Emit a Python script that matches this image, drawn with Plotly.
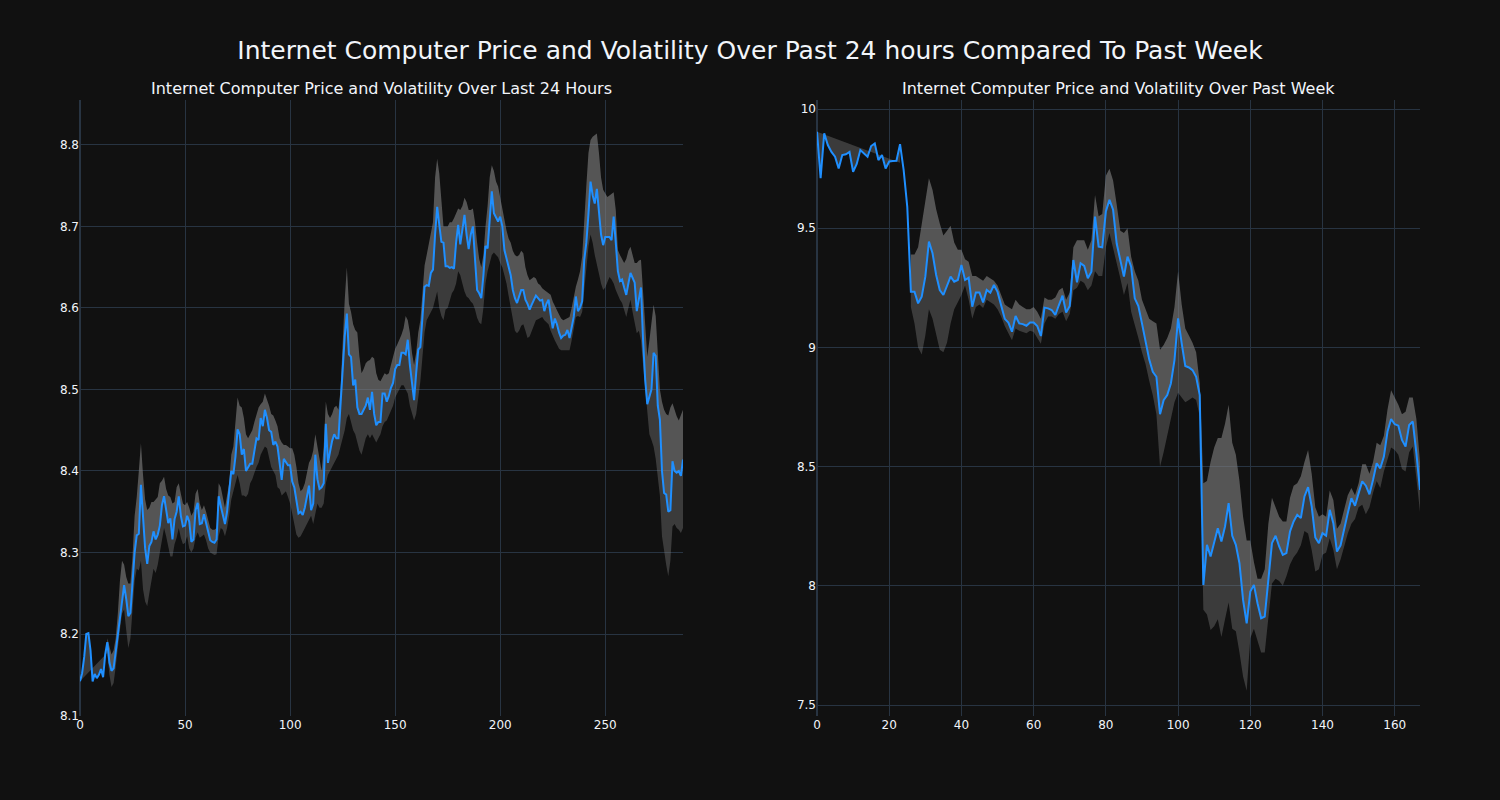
import plotly.graph_objects as go
from plotly.subplots import make_subplots

# ---------------- Last 24 hours (5-minute steps) ----------------
day_price = [
    8.142, 8.152, 8.172, 8.200, 8.201, 8.180, 8.142, 8.151, 8.146, 8.150,
    8.157, 8.147, 8.175, 8.190, 8.165, 8.155, 8.158, 8.178, 8.200, 8.222,
    8.245, 8.260, 8.243, 8.222, 8.226, 8.262, 8.300, 8.321, 8.323, 8.383,
    8.345, 8.305, 8.286, 8.308, 8.313, 8.326, 8.316, 8.322, 8.333, 8.358,
    8.369, 8.352, 8.336, 8.342, 8.316, 8.341, 8.350, 8.369, 8.345, 8.332,
    8.333, 8.345, 8.338, 8.313, 8.316, 8.352, 8.361, 8.335, 8.336, 8.347,
    8.336, 8.327, 8.315, 8.313, 8.312, 8.316, 8.369, 8.357, 8.345, 8.335,
    8.350, 8.372, 8.400, 8.396, 8.418, 8.451, 8.445, 8.420, 8.427, 8.400,
    8.405, 8.409, 8.409, 8.425, 8.440, 8.438, 8.465, 8.455, 8.475, 8.465,
    8.450, 8.448, 8.432, 8.436, 8.430, 8.410, 8.389, 8.415, 8.410, 8.407,
    8.407, 8.387, 8.380, 8.365, 8.348, 8.350, 8.346, 8.355, 8.368, 8.382,
    8.352, 8.360, 8.420, 8.390, 8.378, 8.380, 8.385, 8.458, 8.410, 8.425,
    8.437, 8.445, 8.440, 8.440, 8.480, 8.530, 8.565, 8.593, 8.543, 8.540,
    8.505, 8.512, 8.478, 8.470, 8.470, 8.475, 8.480, 8.490, 8.475, 8.497,
    8.470, 8.456, 8.460, 8.460, 8.495, 8.495, 8.485, 8.492, 8.502, 8.508,
    8.525, 8.530, 8.530, 8.545, 8.545, 8.543, 8.561, 8.530, 8.508, 8.487,
    8.520, 8.549, 8.552, 8.585, 8.626, 8.628, 8.627, 8.643, 8.647, 8.690,
    8.724, 8.702, 8.681, 8.680, 8.651, 8.651, 8.649, 8.650, 8.648, 8.680,
    8.702, 8.678, 8.695, 8.714, 8.690, 8.672, 8.690, 8.700, 8.660, 8.622,
    8.618, 8.612, 8.640, 8.676, 8.673, 8.710, 8.743, 8.716, 8.710, 8.706,
    8.712, 8.700, 8.671, 8.661, 8.650, 8.640, 8.622, 8.612, 8.606, 8.615,
    8.622, 8.622, 8.610, 8.605, 8.598, 8.604, 8.610, 8.615, 8.612, 8.609,
    8.610, 8.596, 8.605, 8.610, 8.592, 8.575, 8.587, 8.580, 8.570, 8.563,
    8.566, 8.567, 8.573, 8.563, 8.576, 8.589, 8.614, 8.596, 8.600, 8.608,
    8.659, 8.680, 8.715, 8.755, 8.738, 8.728, 8.746, 8.712, 8.690, 8.677,
    8.687, 8.687, 8.687, 8.683, 8.712, 8.680, 8.645, 8.633, 8.635, 8.625,
    8.616, 8.630, 8.643, 8.637, 8.631, 8.596, 8.612, 8.625, 8.560, 8.512,
    8.482, 8.490, 8.500, 8.545, 8.541, 8.480, 8.463, 8.400, 8.373, 8.371,
    8.350, 8.352, 8.412, 8.400, 8.398, 8.400, 8.394, 8.414,
]
day_band_start = 13
day_gap_corner = (13, 8.177)
day_upper = [
    8.195, 8.185, 8.175, 8.180, 8.195, 8.225, 8.265, 8.290, 8.285, 8.270,
    8.262, 8.262, 8.295, 8.345, 8.368, 8.400, 8.434, 8.395, 8.365, 8.352,
    8.355, 8.362, 8.362, 8.365, 8.368, 8.385, 8.388, 8.393, 8.378, 8.370,
    8.368, 8.360, 8.362, 8.380, 8.385, 8.372, 8.360, 8.358, 8.362, 8.355,
    8.345, 8.350, 8.372, 8.378, 8.360, 8.352, 8.358, 8.350, 8.340, 8.330,
    8.328, 8.328, 8.330, 8.385, 8.380, 8.368, 8.355, 8.370, 8.385, 8.420,
    8.430, 8.460, 8.490, 8.480, 8.478, 8.465, 8.445, 8.440, 8.445, 8.450,
    8.460, 8.470, 8.478, 8.482, 8.485, 8.495, 8.488, 8.480, 8.470, 8.468,
    8.462, 8.455, 8.440, 8.435, 8.432, 8.432, 8.430, 8.428, 8.428, 8.420,
    8.405, 8.385, 8.375, 8.378, 8.385, 8.400, 8.410, 8.415, 8.425, 8.445,
    8.430, 8.410, 8.400, 8.430, 8.485, 8.470, 8.465, 8.470, 8.478, 8.480,
    8.475, 8.500, 8.560, 8.610, 8.650, 8.605, 8.595, 8.580, 8.573, 8.570,
    8.540, 8.520, 8.525, 8.532, 8.535, 8.536, 8.540, 8.538, 8.520, 8.512,
    8.510, 8.515, 8.520, 8.518, 8.520, 8.530, 8.540, 8.550, 8.555, 8.560,
    8.567, 8.575, 8.590, 8.585, 8.570, 8.545, 8.530, 8.545, 8.570, 8.585,
    8.620, 8.652, 8.665, 8.680, 8.695, 8.705, 8.760, 8.783, 8.765, 8.730,
    8.700, 8.700, 8.700, 8.705, 8.705, 8.710, 8.715, 8.722, 8.720, 8.725,
    8.735, 8.730, 8.720, 8.720, 8.722, 8.705, 8.680, 8.660, 8.650, 8.665,
    8.700, 8.725, 8.760, 8.775, 8.768, 8.755, 8.749, 8.735, 8.718, 8.705,
    8.695, 8.685, 8.680, 8.670, 8.665, 8.663, 8.665, 8.670, 8.667, 8.650,
    8.640, 8.634, 8.636, 8.638, 8.636, 8.630, 8.628, 8.624, 8.622, 8.620,
    8.618, 8.616, 8.608, 8.602, 8.597, 8.592, 8.587, 8.585, 8.586, 8.588,
    8.589, 8.600, 8.615, 8.626, 8.635, 8.645, 8.663, 8.700, 8.750, 8.790,
    8.806, 8.810, 8.812, 8.814, 8.790, 8.760, 8.745, 8.740, 8.736, 8.738,
    8.740, 8.742, 8.720, 8.671, 8.665, 8.660, 8.655, 8.660, 8.670, 8.675,
    8.665, 8.655, 8.655, 8.658, 8.659, 8.620, 8.570, 8.540, 8.560, 8.580,
    8.604, 8.590, 8.540, 8.500, 8.485, 8.475, 8.470, 8.468, 8.478, 8.483,
    8.475, 8.467, 8.462, 8.470, 8.475,
]
day_lower = [
    8.177, 8.150, 8.135, 8.140, 8.160, 8.185, 8.205, 8.225, 8.230, 8.205,
    8.183, 8.195, 8.235, 8.265, 8.280, 8.278, 8.290, 8.255, 8.240, 8.234,
    8.250, 8.268, 8.280, 8.275, 8.285, 8.300, 8.315, 8.330, 8.320, 8.305,
    8.295, 8.295, 8.310, 8.318, 8.330, 8.318, 8.310, 8.312, 8.320, 8.305,
    8.300, 8.305, 8.318, 8.325, 8.318, 8.320, 8.322, 8.315, 8.305, 8.300,
    8.298, 8.297, 8.298, 8.320, 8.330, 8.328, 8.320, 8.330, 8.345, 8.365,
    8.375, 8.385, 8.395, 8.385, 8.370, 8.370, 8.368, 8.372, 8.385, 8.390,
    8.398, 8.405, 8.410, 8.420, 8.425, 8.430, 8.428, 8.415, 8.405, 8.400,
    8.395, 8.380, 8.378, 8.370, 8.372, 8.375, 8.368, 8.360, 8.348, 8.335,
    8.322, 8.318, 8.320, 8.325, 8.330, 8.335, 8.340, 8.345, 8.335, 8.350,
    8.360, 8.355, 8.355, 8.360, 8.385, 8.395, 8.400, 8.405, 8.410, 8.415,
    8.420, 8.430, 8.440, 8.450, 8.465, 8.470, 8.460, 8.450, 8.445, 8.435,
    8.425, 8.420, 8.430, 8.440, 8.445, 8.440, 8.445, 8.440, 8.435, 8.440,
    8.445, 8.455, 8.460, 8.462, 8.468, 8.475, 8.480, 8.490, 8.495, 8.500,
    8.505, 8.505, 8.500, 8.495, 8.480, 8.470, 8.462, 8.470, 8.490, 8.510,
    8.540, 8.570, 8.585, 8.590, 8.595, 8.600, 8.610, 8.620, 8.600, 8.590,
    8.585, 8.598, 8.600, 8.610, 8.618, 8.622, 8.630, 8.645, 8.640, 8.630,
    8.620, 8.614, 8.612, 8.608, 8.605, 8.598, 8.588, 8.582, 8.580, 8.600,
    8.630, 8.645, 8.655, 8.665, 8.668, 8.665, 8.662, 8.655, 8.650, 8.640,
    8.630, 8.615, 8.600, 8.585, 8.572, 8.569, 8.572, 8.578, 8.580, 8.572,
    8.563, 8.565, 8.572, 8.580, 8.585, 8.586, 8.588, 8.589, 8.585, 8.582,
    8.580, 8.572, 8.565, 8.560, 8.555, 8.550, 8.548, 8.548, 8.548, 8.548,
    8.548, 8.560, 8.575, 8.589, 8.590, 8.589, 8.595, 8.620, 8.650, 8.675,
    8.690, 8.680, 8.665, 8.655, 8.642, 8.630, 8.622, 8.625, 8.632, 8.638,
    8.635, 8.630, 8.622, 8.615, 8.610, 8.606, 8.598, 8.589, 8.600, 8.610,
    8.595, 8.580, 8.569, 8.572, 8.560, 8.530, 8.504, 8.470, 8.445, 8.438,
    8.430, 8.415, 8.395, 8.370, 8.320, 8.300, 8.285, 8.271, 8.290, 8.332,
    8.335, 8.330, 8.328, 8.324, 8.330,
]

# ---------------- Past week (hourly steps) ----------------
week_price = [
    9.905, 9.710, 9.898, 9.849, 9.820, 9.800, 9.751, 9.807, 9.810, 9.820,
    9.737, 9.770, 9.828, 9.814, 9.800, 9.845, 9.856, 9.786, 9.807, 9.751,
    9.780, 9.782, 9.783, 9.853, 9.744, 9.590, 9.234, 9.234, 9.185, 9.213,
    9.297, 9.444, 9.395, 9.304, 9.241, 9.220, 9.255, 9.297, 9.276, 9.283,
    9.346, 9.283, 9.293, 9.171, 9.230, 9.230, 9.189, 9.241, 9.230, 9.262,
    9.233, 9.170, 9.120, 9.104, 9.066, 9.132, 9.101, 9.098, 9.091, 9.105,
    9.105, 9.090, 9.048, 9.167, 9.164, 9.157, 9.136, 9.178, 9.217, 9.146,
    9.174, 9.367, 9.273, 9.353, 9.342, 9.290, 9.318, 9.549, 9.423, 9.420,
    9.570, 9.619, 9.578, 9.436, 9.367, 9.297, 9.381, 9.339, 9.206, 9.174,
    9.101, 9.017, 8.950, 8.898, 8.877, 8.720, 8.779, 8.800, 8.849, 8.947,
    9.122, 9.017, 8.922, 8.916, 8.905, 8.877, 8.800, 8.004, 8.172, 8.123,
    8.179, 8.242, 8.186, 8.249, 8.347, 8.210, 8.172, 8.095, 7.941, 7.843,
    7.976, 8.004, 7.927, 7.864, 7.871, 8.025, 8.179, 8.210, 8.165, 8.130,
    8.137, 8.228, 8.270, 8.298, 8.284, 8.375, 8.414, 8.333, 8.203, 8.179,
    8.221, 8.210, 8.319, 8.263, 8.144, 8.170, 8.242, 8.305, 8.368, 8.336,
    8.389, 8.438, 8.420, 8.384, 8.445, 8.514, 8.493, 8.542, 8.647, 8.700,
    8.678, 8.672, 8.612, 8.584, 8.675, 8.689, 8.556, 8.402,
]
week_band_start = 26
week_gap_corner = (23, 9.775)
week_upper = [
    9.39, 9.39, 9.42, 9.52, 9.62, 9.71, 9.66, 9.58, 9.52, 9.47,
    9.49, 9.51, 9.44, 9.41, 9.41, 9.37, 9.36, 9.30, 9.30, 9.29,
    9.28, 9.30, 9.29, 9.28, 9.26, 9.22, 9.18, 9.17, 9.16, 9.20,
    9.18, 9.17, 9.16, 9.16, 9.17, 9.15, 9.12, 9.21, 9.20, 9.20,
    9.21, 9.24, 9.25, 9.20, 9.23, 9.42, 9.45, 9.45, 9.45, 9.41,
    9.45, 9.64, 9.55, 9.56, 9.72, 9.75, 9.70, 9.60, 9.49, 9.48,
    9.50, 9.38, 9.32, 9.28, 9.20, 9.16, 9.12, 9.11, 9.10, 8.99,
    9.01, 9.04, 9.08, 9.17, 9.32, 9.18, 9.08, 9.05, 9.02, 8.98,
    8.85, 8.43, 8.44, 8.52, 8.58, 8.62, 8.62, 8.68, 8.76, 8.60,
    8.55, 8.44, 8.29, 8.19, 8.19, 8.10, 8.03, 8.03, 8.07, 8.26,
    8.37, 8.33, 8.29, 8.27, 8.27, 8.37, 8.42, 8.43, 8.46, 8.52,
    8.57, 8.47, 8.33, 8.29, 8.30, 8.29, 8.40, 8.36, 8.24, 8.26,
    8.32, 8.38, 8.41, 8.38, 8.43, 8.51, 8.51, 8.47, 8.52, 8.60,
    8.59, 8.63, 8.74, 8.82, 8.79, 8.76, 8.72, 8.73, 8.79, 8.79,
    8.70, 8.52,
]
week_lower = [
    9.17, 9.10, 9.00, 8.97, 9.05, 9.16, 9.12, 9.05, 8.99, 8.98,
    9.02, 9.10, 9.16, 9.19, 9.22, 9.26, 9.20, 9.12, 9.17, 9.18,
    9.165, 9.20, 9.19, 9.18, 9.16, 9.13, 9.09, 9.06, 9.03, 9.08,
    9.07, 9.065, 9.06, 9.07, 9.065, 9.04, 9.015, 9.10, 9.13, 9.13,
    9.12, 9.14, 9.15, 9.11, 9.14, 9.24, 9.25, 9.28, 9.27, 9.24,
    9.26, 9.32, 9.30, 9.30, 9.42, 9.48, 9.42, 9.35, 9.29, 9.22,
    9.27, 9.15, 9.10, 9.04, 8.98, 8.93, 8.86, 8.80, 8.72, 8.50,
    8.56, 8.63, 8.71, 8.77, 8.81, 8.79, 8.77, 8.78, 8.79, 8.78,
    8.71, 7.90, 7.88, 7.815, 7.83, 7.86, 7.785, 7.86, 7.93, 7.82,
    7.81, 7.72, 7.62, 7.56, 7.78, 7.82, 7.77, 7.72, 7.72, 7.88,
    8.01, 8.03, 8.02, 8.00, 8.04, 8.09, 8.12, 8.14, 8.17, 8.23,
    8.22, 8.15, 8.06, 8.07, 8.13, 8.14, 8.20, 8.15, 8.07, 8.11,
    8.17, 8.22, 8.26, 8.28, 8.33, 8.34, 8.30, 8.33, 8.39, 8.44,
    8.41, 8.48, 8.53, 8.58, 8.57, 8.55, 8.49, 8.48, 8.56, 8.585,
    8.45, 8.31,
]

main_title = "Internet Computer Price and Volatility Over Past 24 hours Compared To Past Week"
sub_titles = ("Internet Computer Price and Volatility Over Last 24 Hours",
              "Internet Computer Price and Volatility Over Past Week")

DARK_FILL = "rgba(128,128,128,0.38)"
LIGHT_FILL = "rgba(128,128,128,0.62)"
LINE_COLOR = "#1f8fff"
FONT = "DejaVu Sans"

fig = make_subplots(rows=1, cols=2, subplot_titles=sub_titles, horizontal_spacing=0.1)


def add_panel(col, price, start, upper, lower, corner):
    n = len(price)
    x_all = list(range(n))
    xb = list(range(start, start + len(upper)))
    pb = price[start:start + len(upper)]
    cx, cy = corner
    common = dict(mode="lines", line=dict(width=0), hoverinfo="skip", showlegend=False)
    # gap region before the band begins
    fig.add_trace(go.Scatter(x=[0, cx], y=[price[0], cy], **common), row=1, col=col)
    fig.add_trace(go.Scatter(x=x_all[:cx + 1], y=price[:cx + 1], fill="tonexty",
                             fillcolor=DARK_FILL, **common), row=1, col=col)
    # lower band (price -> lower)
    fig.add_trace(go.Scatter(x=xb, y=pb, **common), row=1, col=col)
    fig.add_trace(go.Scatter(x=xb, y=lower, fill="tonexty", fillcolor=DARK_FILL, **common),
                  row=1, col=col)
    # upper band (upper -> price)
    fig.add_trace(go.Scatter(x=xb, y=upper, **common), row=1, col=col)
    fig.add_trace(go.Scatter(x=xb, y=pb, fill="tonexty", fillcolor=LIGHT_FILL, **common),
                  row=1, col=col)
    # price line
    fig.add_trace(go.Scatter(x=x_all, y=price, mode="lines",
                             line=dict(color=LINE_COLOR, width=2), showlegend=False),
                  row=1, col=col)


add_panel(1, day_price, day_band_start, day_upper, day_lower, day_gap_corner)
add_panel(2, week_price, week_band_start, week_upper, week_lower, week_gap_corner)

fig.update_layout(
    template="plotly_dark",
    width=1500, height=800,
    margin=dict(l=80, r=80, t=100, b=84),
    paper_bgcolor="#111111", plot_bgcolor="#111111",
    font=dict(family=FONT, color="#f2f5fa"),
    title=dict(text=main_title, x=0.5, xanchor="center", y=1 - 50 / 800, yanchor="middle",
               font=dict(family=FONT, size=25, color="#f2f5fa")),
    showlegend=False,
)
for ann in fig.layout.annotations:
    ann.font = dict(family=FONT, size=16, color="#f2f5fa")
fig.update_xaxes(range=[0, len(day_price) - 1], row=1, col=1)
fig.update_xaxes(range=[0, len(week_price) - 1], row=1, col=2)
fig.update_yaxes(range=[8.0995, 8.855], row=1, col=1)
fig.update_yaxes(range=[7.454, 10.038], row=1, col=2)

fig.write_html("out.html")
